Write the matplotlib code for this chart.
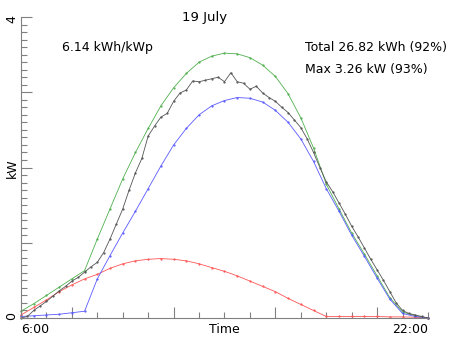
import matplotlib
matplotlib.use("Agg")
import matplotlib.pyplot as plt
from matplotlib.ticker import MultipleLocator

# ---- data ----
t_half = [6.0, 6.5, 7.0, 7.5, 8.0, 8.5, 9.0, 9.5, 10.0, 10.5, 11.0, 11.5, 12.0, 12.5,
          13.0, 13.5, 14.0, 14.5, 15.0, 15.5, 16.0, 16.5, 17.0, 17.5, 18.0, 18.5,
          19.0, 19.5, 20.0, 20.5, 21.0, 21.5, 22.0]

clear_sky = [0.09, 0.19, 0.30, 0.41, 0.52, 0.63, 1.05, 1.45, 1.85, 2.20, 2.52, 2.82, 3.06, 3.25,
             3.40, 3.48, 3.52, 3.51, 3.46, 3.36, 3.21, 2.98, 2.66, 2.26, 1.78, 1.45,
             1.13, 0.85, 0.56, 0.27, 0.08, 0.03, 0.0]

direct = [0.02, 0.03, 0.04, 0.05, 0.07, 0.09, 0.52, 0.83, 1.13, 1.42, 1.72, 2.02, 2.30, 2.52,
          2.70, 2.82, 2.89, 2.93, 2.92, 2.87, 2.76, 2.60, 2.38, 2.08, 1.72, 1.42,
          1.10, 0.82, 0.53, 0.25, 0.06, 0.02, 0.0]

diffuse = [0.04, 0.14, 0.24, 0.35, 0.44, 0.52, 0.58, 0.66, 0.72, 0.76, 0.78, 0.79, 0.78, 0.76,
           0.72, 0.67, 0.62, 0.56, 0.49, 0.42, 0.35, 0.26, 0.18, 0.10, 0.02, 0.02,
           0.02, 0.02, 0.02, 0.015, 0.015, 0.01, 0.0]

t_quarter = [6.0 + 0.25 * i for i in range(65)]
measured = [0.00, 0.02, 0.10, 0.16, 0.22, 0.29, 0.36, 0.42, 0.49, 0.54, 0.61, 0.68, 0.74,
            0.87, 1.05, 1.25, 1.45, 1.70, 1.93, 2.12, 2.42, 2.55, 2.67, 2.72, 2.88,
            2.99, 3.03, 3.15, 3.14, 3.16, 3.18, 3.20, 3.14, 3.26, 3.14, 3.12, 3.04,
            3.08, 2.99, 2.93, 2.88, 2.80, 2.73, 2.63, 2.53, 2.38, 2.20, 2.00, 1.81,
            1.68, 1.53, 1.38, 1.22, 1.08, 0.93, 0.78, 0.64, 0.50, 0.35, 0.20, 0.10,
            0.06, 0.04, 0.02, 0.00]

title = "19 July"
yield_text = "6.14 kWh/kWp"
total_text = "Total 26.82 kWh (92%)"
max_text = "Max 3.26 kW (93%)"

# ---- figure ----
W, H = 452, 339
fig = plt.figure(figsize=(W / 100, H / 100), dpi=100)
ax = fig.add_axes([21 / W, (H - 318) / H, (428 - 21) / W, (318 - 17) / H])

lw = 0.6
ms = 1.2
ax.plot(t_half, clear_sky, color="#50b050", lw=lw, marker=".", ms=ms, clip_on=False)
ax.plot(t_half, diffuse, color="#ff5555", lw=lw, marker=".", ms=ms, clip_on=False)
ax.plot(t_half, direct, color="#5a5aff", lw=lw, marker=".", ms=ms, clip_on=False)
ax.plot(t_quarter, measured, color="#555555", lw=lw, marker=".", ms=ms, clip_on=False)

ax.set_xlim(6, 22)
ax.set_ylim(0, 4)
for s in ["top", "right"]:
    ax.spines[s].set_visible(False)
for s in ["left", "bottom"]:
    ax.spines[s].set_color("#808080")
    ax.spines[s].set_linewidth(0.8)

ax.xaxis.set_major_locator(MultipleLocator(4))
ax.xaxis.set_minor_locator(MultipleLocator(1))
ax.yaxis.set_major_locator(MultipleLocator(1))
ax.yaxis.set_minor_locator(MultipleLocator(0.1))
ax.tick_params(which="both", direction="in", color="#808080", width=0.8)
ax.tick_params(which="major", length=8)
ax.tick_params(which="minor", length=4)
ax.set_xticklabels([])
ax.set_yticklabels([])

fs = 9
# x labels
ax.text(0, -0.018, "6:00", transform=ax.transAxes, ha="left", va="top", fontsize=fs)
ax.text(1, -0.018, "22:00", transform=ax.transAxes, ha="right", va="top", fontsize=fs)
ax.text(0.5, -0.018, "Time", transform=ax.transAxes, ha="center", va="top", fontsize=fs)
# y labels
fig.text(12 / W, 1 - 316 / H, "0", rotation=90, ha="center", va="center", fontsize=fs)
fig.text(12 / W, 1 - 19 / H, "4", rotation=90, ha="center", va="center", fontsize=fs)
fig.text(12 / W, 1 - 168 / H, "kW", rotation=90, ha="center", va="center", fontsize=fs)

fig.text(205 / W, 1 - 17 / H, title, ha="center", va="center", fontsize=9.5)
fig.text(62 / W, 1 - 47 / H, yield_text, ha="left", va="center", fontsize=fs)
fig.text(305 / W, 1 - 47 / H, total_text, ha="left", va="center", fontsize=fs)
fig.text(305 / W, 1 - 70 / H, max_text, ha="left", va="center", fontsize=fs)

fig.savefig("out.png", dpi=100)
